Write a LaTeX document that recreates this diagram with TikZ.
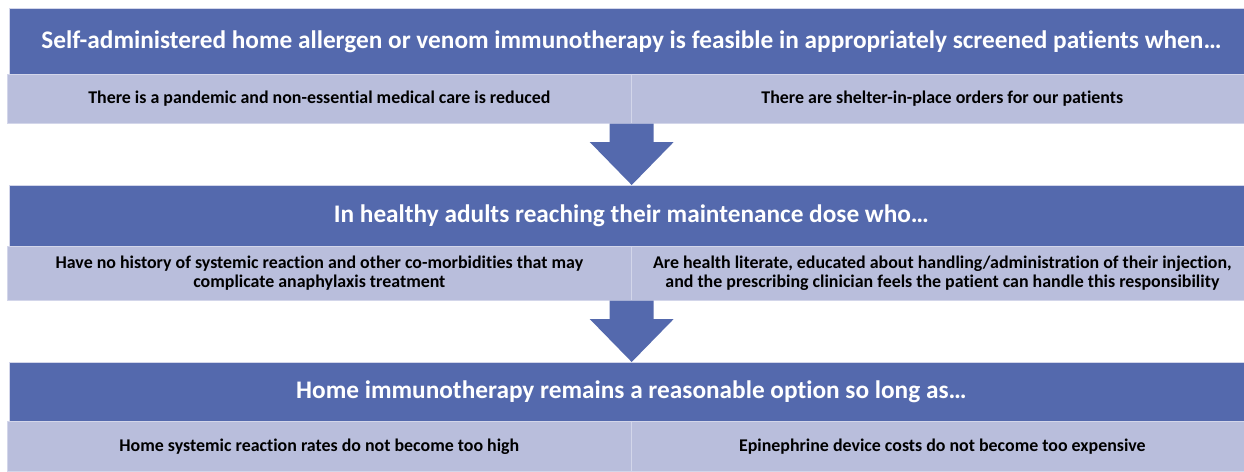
\documentclass[tikz,border=0pt]{standalone}
\usepackage{fontspec}
\setmainfont[Ligatures=NoCommon]{Carlito}
\usetikzlibrary{calc}

\definecolor{hdrblue}{HTML}{5469AD}
\definecolor{rowblue}{HTML}{B9BEDC}
\definecolor{rowline}{HTML}{D3D6EA}

\tikzset{
    header/.style={anchor=north west, fill=hdrblue, draw=rowline, line width=0.7pt,
                   minimum width=1244pt, inner sep=0pt, text=white,
                   font=\bfseries\fontsize{25.3}{30}\selectfont},
    cell/.style={anchor=north west, fill=rowblue, draw=rowline, line width=0.7pt,
                 inner sep=0pt, align=center,
                 font=\bfseries\fontsize{17.9}{19.5}\selectfont},
}

\begin{document}
\begin{tikzpicture}[x=1pt,y=-1pt]
    \useasboundingbox (0,0) rectangle (1244,471);

    \node[header, minimum height=66pt] (h1) at (9,8)
        {Self-administered home allergen or venom immunotherapy is feasible in appropriately screened patients when…};
    \node[cell, minimum width=624pt, minimum height=49pt] (c1l) at (7,74)
        {There is a pandemic and non-essential medical care is reduced};
    \node[cell, minimum width=622pt, minimum height=49pt] (c1r) at (631,74)
        {There are shelter-in-place orders for our patients};

    \node[header, minimum height=61pt] (h2) at (9,185)
        {In healthy adults reaching their maintenance dose who…};
    \node[cell, minimum width=624pt, minimum height=54pt] (c2l) at (7,246)
        {Have no history of systemic reaction and other co-morbidities that may\\complicate anaphylaxis treatment};
    \node[cell, minimum width=622pt, minimum height=54pt] (c2r) at (631,246)
        {Are health literate, educated about handling/administration of their injection,\\and the prescribing clinician feels the patient can handle this responsibility};

    \node[header, minimum height=59pt] (h3) at (9,362)
        {Home immunotherapy remains a reasonable option so long as…};
    \node[cell, minimum width=624pt, minimum height=50pt] (c3l) at (7,421)
        {Home systemic reaction rates do not become too high};
    \node[cell, minimum width=622pt, minimum height=50pt] (c3r) at (631,421)
        {Epinephrine device costs do not become too expensive};

    % block arrows between the stages
    \foreach \src/\dst in {c1l/h2, c2l/h3}{
        \coordinate (top) at (\src.south east);
        \coordinate (tip) at (\src.south east |- \dst.north);
        \fill[hdrblue] ($(top)+(-22,0)$) -- ($(top)+(22,0)$) -- ($(tip)+(22,-43)$)
            -- ($(tip)+(42,-43)$) -- (tip) -- ($(tip)+(-42,-43)$) -- ($(tip)+(-22,-43)$) -- cycle;
    }

\end{tikzpicture}
\end{document}
